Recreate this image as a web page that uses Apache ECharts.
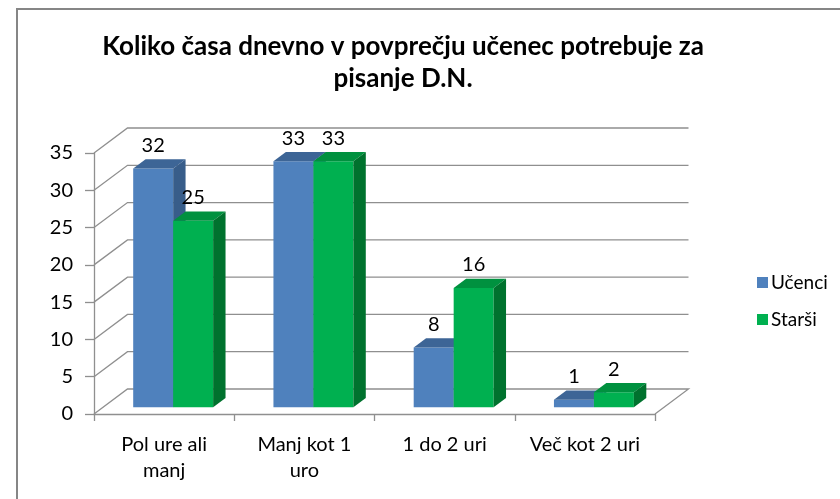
<!DOCTYPE html>
<html>
<head>
<meta charset="utf-8">
<script src="https://cdn.jsdelivr.net/npm/echarts@6/dist/echarts.min.js"></script>
<style>
html,body{margin:0;padding:0;background:#fff;}
#chart{width:840px;height:499px;}
</style>
</head>
<body>
<div id="chart"></div>
<script>
const categories = ['Pol ure ali\nmanj', 'Manj kot 1\nuro', '1 do 2 uri', 'Več kot 2 uri'];
const seriesNames = ['Učenci', 'Starši'];
const ucenci = [32, 33, 8, 1];
const starsi = [25, 33, 16, 2];
const yTicks = [0, 5, 10, 15, 20, 25, 30, 35];

const FONT = 'Lato';
// 3D geometry (pixels)
const DEPTH_X = 33.5, DEPTH_Y = -25;      // full floor depth
const BAR_OFF = 0.27;                      // bar front plane as fraction of depth
const BAR_DEPTH = 0.37;                    // bar depth as fraction of depth
const BAR_W = 0.285;                       // bar width as fraction of band

const faceColors = [
  {front: '#4F81BD', top: '#3D6596', side: '#385D8A'},
  {front: '#00B050', top: '#00913F', side: '#00722E'}
];

function barRender(sIdx) {
  return function (params, api) {
    const i = api.value(0), v = api.value(1);
    const p0 = api.coord([i, 0]);
    const p1 = api.coord([i, v]);
    const band = api.size([1, 0])[0];
    const bw = band * BAR_W;
    const ox = DEPTH_X * BAR_OFF, oy = DEPTH_Y * BAR_OFF;
    const dx = DEPTH_X * BAR_DEPTH, dy = DEPTH_Y * BAR_DEPTH;
    const x0 = p0[0] + ox + (sIdx === 0 ? -bw : 0);
    const x1 = x0 + bw;
    const yb = p0[1] + oy, yt = p1[1] + oy;
    const c = faceColors[sIdx];
    return {
      type: 'group',
      children: [
        {type: 'rect', shape: {x: x0, y: yt, width: bw, height: yb - yt}, style: {fill: c.front}},
        {type: 'polygon', shape: {points: [[x0, yt], [x1, yt], [x1 + dx, yt + dy], [x0 + dx, yt + dy]]}, style: {fill: c.top}},
        {type: 'polygon', shape: {points: [[x1, yt], [x1 + dx, yt + dy], [x1 + dx, yb + dy], [x1, yb]]}, style: {fill: c.side}},
        {type: 'text', style: {text: String(v), x: x0 + bw / 2, y: yt - 23, align: 'center', verticalAlign: 'middle',
          fill: '#000', font: '20px ' + FONT}}
      ]
    };
  };
}

function wallRender(params, api) {
  const v = api.value(0);
  const cs = params.coordSys;
  const xl = cs.x, xr = cs.x + cs.width;
  const y = api.coord([0, v])[1];
  const pts = [[xl, y], [xl + DEPTH_X, y + DEPTH_Y], [xr + DEPTH_X, y + DEPTH_Y]];
  if (v === 0) pts.push([xr, y]);
  return {type: 'polyline', shape: {points: pts}, style: {stroke: '#8f8f8f', lineWidth: 1.3, fill: null}};
}

const chart = echarts.init(document.getElementById('chart'), null, {renderer: 'canvas'});
chart.setOption({
  animation: false,
  backgroundColor: '#fff',
  graphic: [{
    type: 'rect', shape: {x: 17, y: 9, width: 900, height: 600},
    style: {fill: null, stroke: '#868686', lineWidth: 2}, z: 0, silent: true
  }],
  title: {
    text: 'Koliko časa dnevno v povprečju učenec potrebuje za\npisanje D.N.',
    left: 398, top: 26, textAlign: 'center',
    textStyle: {fontFamily: FONT, fontWeight: 'bold', fontSize: 26, lineHeight: 32, color: '#000'}
  },
  legend: {
    orient: 'vertical', left: 752, top: 268,
    itemWidth: 11, itemHeight: 11, itemGap: 18,
    icon: 'rect',
    data: seriesNames,
    textStyle: {fontFamily: FONT, fontSize: 19, color: '#000', padding: [0, 0, 0, -2]}
  },
  grid: {left: 94, right: 185, top: 153, bottom: 85, containLabel: false},
  xAxis: {
    type: 'category', data: categories, boundaryGap: true,
    axisLine: {show: true, lineStyle: {color: '#8f8f8f', width: 1.3}},
    axisTick: {show: true, length: 7, lineStyle: {color: '#8f8f8f', width: 1.3}},
    axisLabel: {fontFamily: FONT, fontSize: 20, color: '#000', lineHeight: 26, margin: 18, interval: 0}
  },
  yAxis: {
    type: 'value', min: 0, max: 35, interval: 5,
    axisLine: {show: true, lineStyle: {color: '#8f8f8f', width: 1.3}},
    axisTick: {show: true, length: 9, lineStyle: {color: '#8f8f8f', width: 1.3}},
    splitLine: {show: false},
    axisLabel: {fontFamily: FONT, fontSize: 20, color: '#000', margin: 21}
  },
  series: [
    {type: 'custom', name: '_walls', renderItem: wallRender, data: yTicks.map(t => [t]),
      encode: {y: 0}, z: 1, silent: true},
    {type: 'custom', name: seriesNames[0], renderItem: barRender(0),
      data: ucenci.map((v, i) => [i, v]), encode: {x: 0, y: 1}, itemStyle: {color: '#4F81BD'}, z: 2},
    {type: 'custom', name: seriesNames[1], renderItem: barRender(1),
      data: starsi.map((v, i) => [i, v]), encode: {x: 0, y: 1}, itemStyle: {color: '#00B050'}, z: 3}
  ]
});
</script>
</body>
</html>
